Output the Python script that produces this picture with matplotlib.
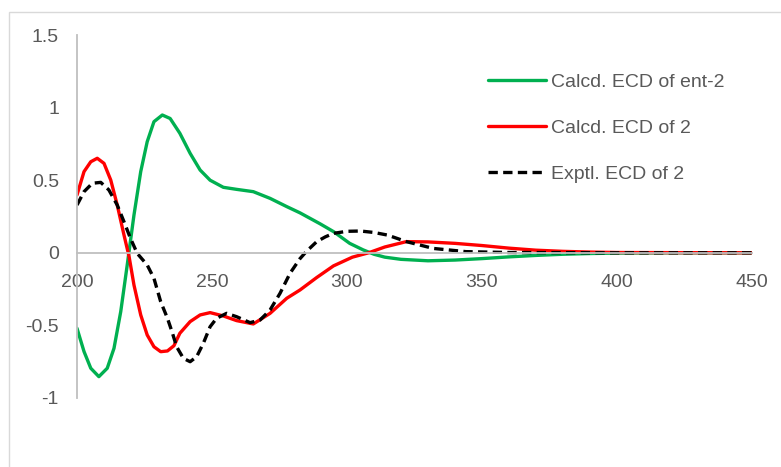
import numpy as np
import matplotlib
matplotlib.use("Agg")
import matplotlib.pyplot as plt
from matplotlib.patches import Rectangle

plt.rcParams["font.family"] = ["Liberation Sans", "DejaVu Sans"]

# ECD spectra, wavelength (nm) vs delta-epsilon
wl_ent = [200, 202.6, 205.1, 208.1, 211.2, 213.7, 216.2, 218.6, 221.1, 223.6, 226, 228.5,
          231.6, 234.5, 238.1, 241.9, 245.6, 249.3, 254.2, 259.1, 265.3, 271.5, 277.7,
          282.6, 290, 295, 301, 306, 310, 314, 320, 330, 340, 350, 360, 370, 380, 390,
          400, 420, 450]
calc_ent = [-0.52, -0.68, -0.795, -0.853, -0.795, -0.658, -0.405, -0.084, 0.26, 0.559,
            0.765, 0.903, 0.949, 0.925, 0.823, 0.685, 0.57, 0.50, 0.451, 0.437, 0.421,
            0.375, 0.318, 0.275, 0.20, 0.146, 0.065, 0.02, -0.01, -0.03, -0.045, -0.055,
            -0.05, -0.04, -0.028, -0.018, -0.01, -0.005, -0.002, 0.0, 0.0]

wl_calc = [200, 202.6, 205.1, 207.5, 210, 212.5, 214.9, 217.4, 219.3, 221.1, 223.6, 226,
           228.5, 231, 233.5, 235.9, 238.1, 241.9, 245.6, 249.3, 254.2, 259.1, 265.3,
           271.5, 277.7, 282.6, 288.8, 295, 302, 308, 314, 322, 330, 340, 350, 360, 370,
           380, 390, 400, 450]
calc_2 = [0.398, 0.559, 0.627, 0.651, 0.616, 0.501, 0.329, 0.123, -0.027, -0.222, -0.428,
          -0.566, -0.647, -0.681, -0.676, -0.64, -0.554, -0.474, -0.428, -0.412, -0.435,
          -0.467, -0.49, -0.417, -0.313, -0.256, -0.17, -0.09, -0.03, 0.0, 0.04, 0.077,
          0.075, 0.065, 0.05, 0.032, 0.018, 0.01, 0.005, 0.002, 0.0]

wl_exp = [200, 202.6, 205.7, 208.8, 211.8, 214.9, 217.4, 219.8, 222.3, 226, 228.5, 231,
          233.5, 235.3, 236.9, 239.4, 241.9, 244.3, 246.8, 249.3, 251.7, 255.4, 259.1,
          264.1, 267.8, 271.5, 275.2, 278.9, 282.6, 285, 288.8, 292, 295, 300, 305, 310,
          315, 322, 332, 344, 360, 400, 450]
exp_2 = [0.329, 0.421, 0.479, 0.485, 0.433, 0.329, 0.214, 0.10, -0.004, -0.084, -0.176,
         -0.337, -0.451, -0.55, -0.647, -0.727, -0.75, -0.716, -0.623, -0.509, -0.451,
         -0.417, -0.44, -0.481, -0.463, -0.394, -0.279, -0.141, -0.04, 0.01, 0.077, 0.11,
         0.134, 0.148, 0.15, 0.14, 0.122, 0.077, 0.03, 0.008, 0.002, 0.0, 0.0]

x_ticks = [200, 250, 300, 350, 400, 450]
y_ticks = [-1, -0.5, 0, 0.5, 1, 1.5]
y_labels = ["-1", "-0.5", "0", "0.5", "1", "1.5"]

GREEN = "#00B050"; RED = "#FF0000"; GREY = "#595959"; AXIS = "#BFBFBF"

fig = plt.figure(figsize=(7.81, 4.67), dpi=100)
fig.patches.append(Rectangle((9 / 781, -0.1), 1.2, 1.1 - 12 / 467, transform=fig.transFigure,
                             fill=False, edgecolor="#D9D9D9", lw=1.0))
ax = fig.add_axes([77 / 781, 1 - 398 / 467, 675 / 781, 363 / 467])

ax.plot(wl_ent, calc_ent, color=GREEN, lw=2.4, label="Calcd. ECD of ent-2",
        solid_capstyle="round", solid_joinstyle="round")
ax.plot(wl_calc, calc_2, color=RED, lw=2.4, label="Calcd. ECD of 2",
        solid_capstyle="round", solid_joinstyle="round")
ax.plot(wl_exp, exp_2, color="black", lw=2.4, ls=(0, (2.8, 1.6)), label="Exptl. ECD of 2",
        dash_joinstyle="round")

ax.set_xlim(200, 450)
ax.set_ylim(-1, 1.5)
for s in ("top", "right"):
    ax.spines[s].set_visible(False)
ax.spines["left"].set_color(AXIS)
ax.spines["left"].set_linewidth(1.3)
ax.spines["bottom"].set_position(("data", 0))
ax.spines["bottom"].set_color(AXIS)
ax.spines["bottom"].set_linewidth(1.3)
ax.set_xticks(x_ticks)
ax.set_yticks(y_ticks, y_labels)
ax.tick_params(length=0, labelsize=14, labelcolor=GREY)
ax.tick_params(axis="x", pad=15)
ax.tick_params(axis="y", pad=13)

ax.legend(loc="upper left", bbox_to_anchor=(488 / 781, 1 - 73 / 467), bbox_transform=fig.transFigure,
          frameon=False, fontsize=14, labelcolor=GREY, handlelength=3.0, handletextpad=0.25,
          labelspacing=1.47, borderpad=0, borderaxespad=0)

fig.savefig("out.png", dpi=100)
